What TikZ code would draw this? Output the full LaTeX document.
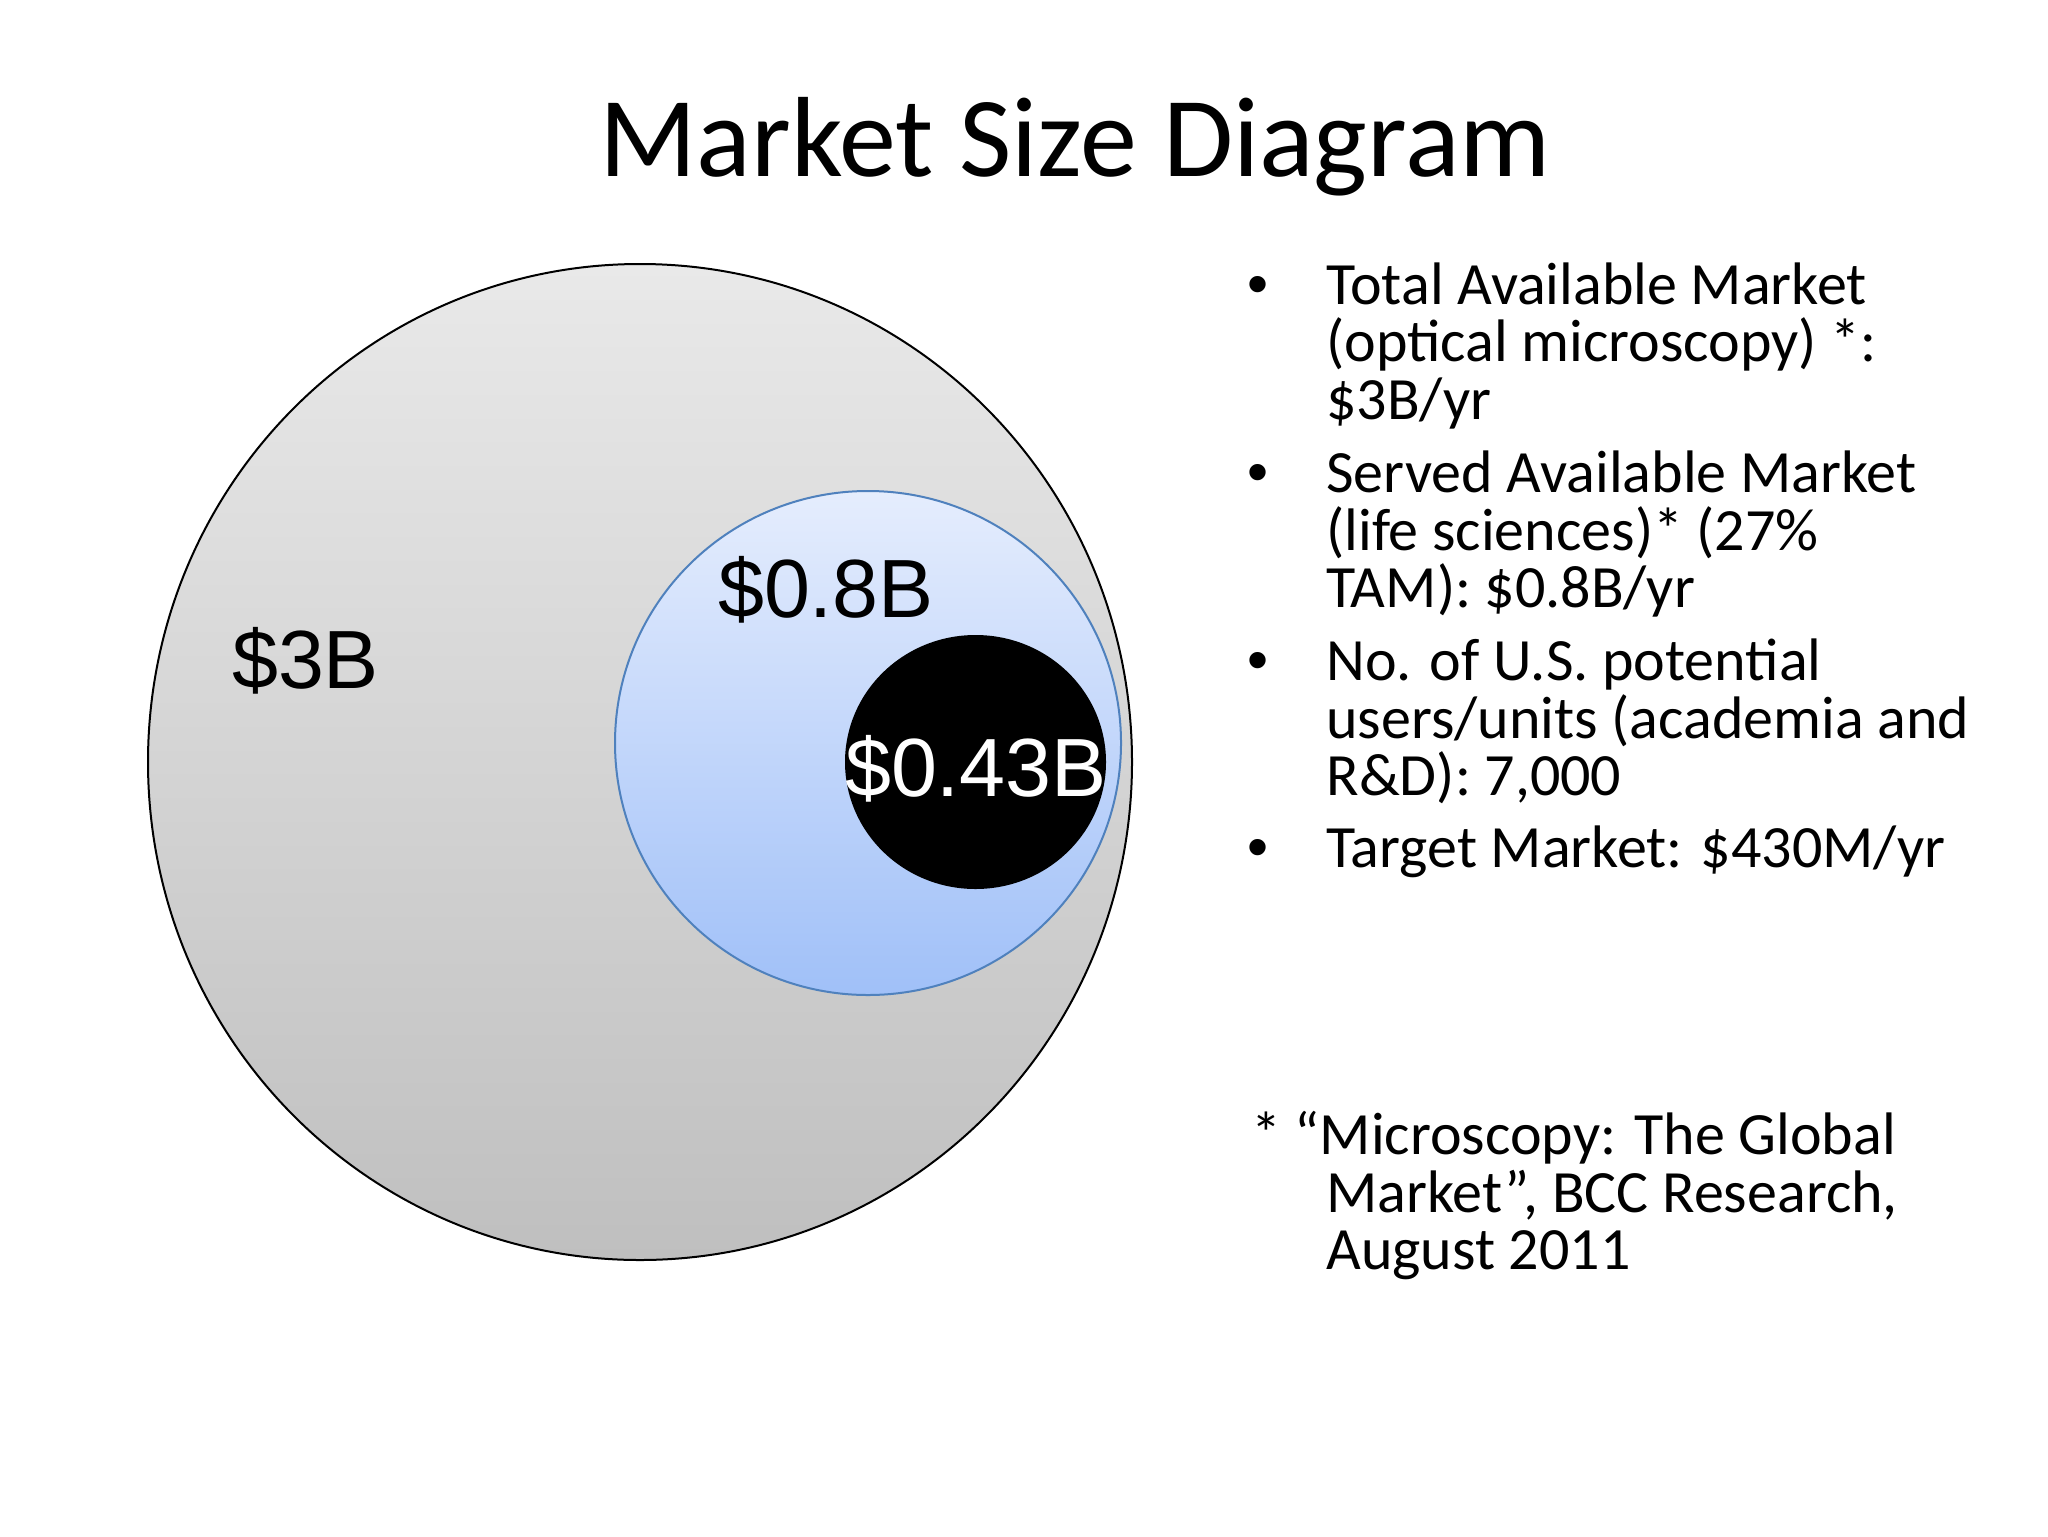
\documentclass[tikz,border=0pt]{standalone}
\usepackage{fontspec}
\setmainfont{Carlito}
\newfontfamily\arialf{Liberation Sans}
\usetikzlibrary{shapes.geometric}
\definecolor{graytop}{HTML}{E9E9E9}
\definecolor{graybot}{HTML}{BFBFBF}
\definecolor{bluetop}{HTML}{E5EDFD}
\definecolor{bluebot}{HTML}{A0C0F8}
\definecolor{blueline}{HTML}{4F81BD}
\begin{document}
\begin{tikzpicture}[x=0.5pt,y=-0.5pt,
  tline/.style={anchor=base west, inner sep=0pt, font=\fontsize{30}{30}\selectfont},
  bdot/.style={anchor=base, inner sep=0pt, font=\arialf\fontsize{30}{30}\selectfont},
  numlbl/.style={anchor=base, inner sep=0pt, font=\arialf\fontsize{41.3}{41.3}\selectfont},
  ring/.style={ellipse, inner sep=0pt}]
\useasboundingbox (0,0) rectangle (2048,1536);
\fill[white] (0,0) rectangle (2048,1536);
% title
\node[anchor=base, inner sep=0pt, font=\fontsize{57}{57}\selectfont] (title) at (1075,176) {Market Size Diagram};
% circles
\node[ring, draw=black, line width=1pt, top color=graytop, bottom color=graybot,
      minimum width=492pt, minimum height=498pt] (tam) at (640,762) {};
\node[ring, draw=blueline, line width=1pt, top color=bluetop, bottom color=bluebot,
      minimum width=253pt, minimum height=252pt] (sam) at (868,743) {};
\node[ring, fill=black, minimum width=130.5pt, minimum height=127pt] (tm) at (975.5,762) {};
% circle labels
\node[numlbl] (l3b) at (305.6,688) {\$3B};
\node[numlbl] (l08b) at (826,617.7) {\$0.8B};
\node[numlbl, text=white] (l043b) at (976,796.7) {\$0.43B};
% bullets
\node[bdot] (d1) at (1258,304) {•};
\node[tline] (t1a) at (1326,304) {Total Available Market};
\node[tline] (t1b) at (1326,361.5) {(optical microscopy) *:};
\node[tline] (t1c) at (1326,419) {\$3B/yr};
\node[bdot] (d2) at (1258,492.5) {•};
\node[tline] (t2a) at (1326,492.5) {Served Available Market};
\node[tline] (t2b) at (1326,550) {(life sciences)* (27\%};
\node[tline] (t2c) at (1326,607.5) {TAM): \$0.8B/yr};
\node[bdot] (d3) at (1258,680.5) {•};
\node[tline] (t3a) at (1326,680.5) {No. of U.S. potential};
\node[tline] (t3b) at (1326,738) {users/units (academia and};
\node[tline] (t3c) at (1326,795.5) {R\&D): 7,000};
\node[bdot] (d4) at (1258,867) {•};
\node[tline] (t4a) at (1326,867) {Target Market: \$430M/yr};
% footnote
\node[tline] (f1) at (1251,1154.5) {* “Microscopy: The Global};
\node[tline] (f2) at (1326,1212) {Market”, BCC Research,};
\node[tline] (f3) at (1326,1269.5) {August 2011};
\end{tikzpicture}
\end{document}
